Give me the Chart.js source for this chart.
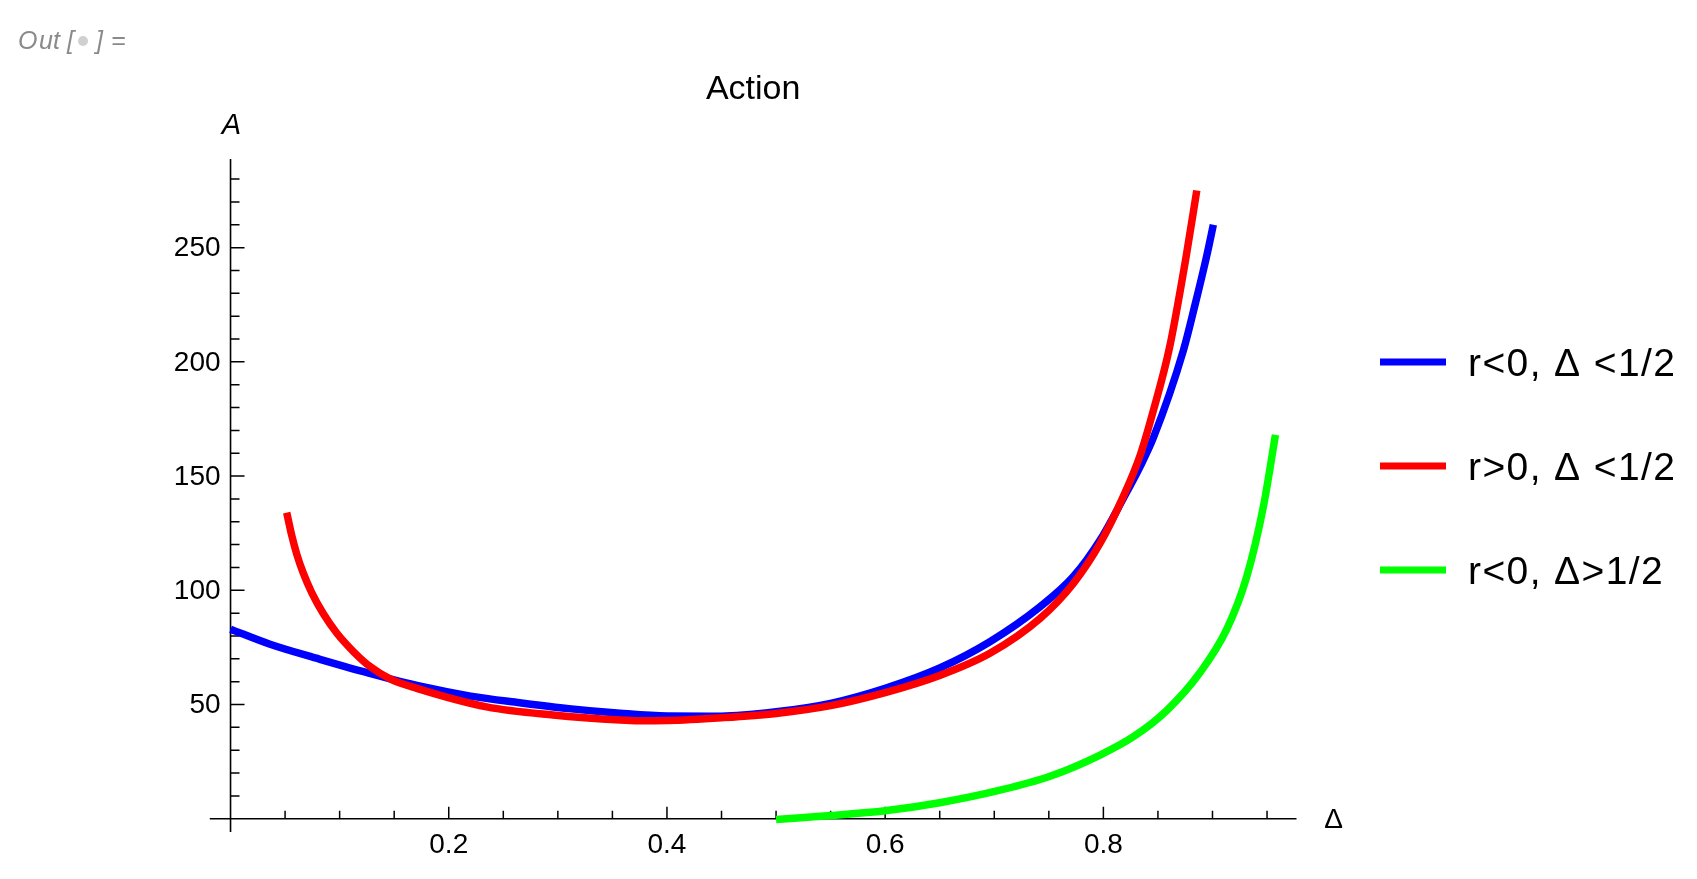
<!DOCTYPE html>
<html>
<head>
<meta charset="utf-8">
<script src="https://cdn.jsdelivr.net/npm/chart.js@4.4.1/dist/chart.umd.min.js"></script>
<style>
  html, body { margin: 0; padding: 0; background: #ffffff; }
  #wrap { position: relative; width: 1697px; height: 879px; }
  canvas { display: block; }
</style>
</head>
<body>
<div id="wrap"><canvas id="c" width="1697" height="879"></canvas></div>
<script>
// ---- data ----
const blueDelta  = [0.00, 0.0362, 0.082, 0.105, 0.12, 0.174, 0.22, 0.265, 0.31, 0.357, 0.40, 0.45, 0.50, 0.55, 0.60, 0.65, 0.696, 0.742, 0.7725, 0.797, 0.818, 0.834, 0.846, 0.8733, 0.884, 0.895, 0.9008];
const blueAction = [83.0, 76.4, 69.8, 66.6, 64.6, 58.0, 53.7, 50.8, 48.2, 46.2, 45.0, 44.9, 46.8, 50.5, 57.1, 66.0, 77.5, 92.8, 106.0, 122.0, 140.0, 154.5, 167.0, 205.0, 225.0, 247.0, 260.0];

const redDelta   = [0.0515, 0.0561, 0.0607, 0.0667, 0.0744, 0.0851, 0.0973, 0.1126, 0.1279, 0.1462, 0.1707, 0.2348, 0.2957, 0.357, 0.374, 0.40, 0.45, 0.50, 0.55, 0.60, 0.65, 0.696, 0.742, 0.7725, 0.797, 0.818, 0.834, 0.846, 0.8605, 0.8758, 0.8856];
const redAction  = [134.0, 124.0, 115.8, 107.5, 99.0, 89.7, 81.3, 73.2, 66.6, 61.2, 57.1, 49.0, 45.4, 43.2, 42.9, 43.0, 44.2, 46.1, 49.5, 55.2, 62.7, 72.4, 87.7, 103.0, 120.6, 140.8, 159.5, 179.0, 206.0, 246.0, 275.0];

const greenDelta  = [0.50, 0.55, 0.60, 0.65, 0.7053, 0.7511, 0.797, 0.8275, 0.8581, 0.8886, 0.9131, 0.9314, 0.9467, 0.9577];
const greenAction = [-0.3, 1.4, 3.5, 7.0, 12.5, 18.6, 27.9, 35.9, 47.4, 64.0, 83.0, 106.0, 136.8, 168.0];

const seriesLabels = ['r<0, \u0394 <1/2', 'r>0, \u0394 <1/2', 'r<0, \u0394>1/2'];
const seriesColors = ['#0000ff', '#ff0000', '#00ff00'];

const xMajorTicks = [0.2, 0.4, 0.6, 0.8];
const xTickLabels = ['0.2', '0.4', '0.6', '0.8'];
const xMinorTicks = [0.05, 0.10, 0.15, 0.25, 0.30, 0.35, 0.45, 0.50, 0.55, 0.65, 0.70, 0.75, 0.85, 0.90, 0.95];
const yMajorTicks = [50, 100, 150, 200, 250];
const yTickLabels = ['50', '100', '150', '200', '250'];
const yMinorTicks = [10, 20, 30, 40, 60, 70, 80, 90, 110, 120, 130, 140, 160, 170, 180, 190, 210, 220, 230, 240, 260, 270, 280];

const titleText = 'Action';
const xAxisLabel = '\u0394';
const yAxisLabel = 'A';

function pts(xs, ys) { return xs.map((x, i) => ({ x: x, y: ys[i] })); }

const FONT = '"Liberation Sans", Arial, sans-serif';

const axesPlugin = {
  id: 'mathAxes',
  beforeDatasetsDraw(chart) {
    const ctx = chart.ctx, xs = chart.scales.x, ys = chart.scales.y, a = chart.chartArea;
    const x0 = xs.getPixelForValue(0), y0 = ys.getPixelForValue(0);
    ctx.save();
    ctx.strokeStyle = '#000';
    ctx.lineWidth = 1.6;
    ctx.beginPath();
    ctx.moveTo(a.left, y0); ctx.lineTo(a.right, y0);
    ctx.moveTo(x0, a.top); ctx.lineTo(x0, a.bottom);
    ctx.stroke();
    ctx.lineWidth = 1.5;
    ctx.beginPath();
    xMajorTicks.forEach(v => { const p = xs.getPixelForValue(v); ctx.moveTo(p, y0); ctx.lineTo(p, y0 - 12); });
    xMinorTicks.forEach(v => { const p = xs.getPixelForValue(v); ctx.moveTo(p, y0); ctx.lineTo(p, y0 - 8); });
    yMajorTicks.forEach(v => { const p = ys.getPixelForValue(v); ctx.moveTo(x0, p); ctx.lineTo(x0 + 14, p); });
    yMinorTicks.forEach(v => { const p = ys.getPixelForValue(v); ctx.moveTo(x0, p); ctx.lineTo(x0 + 9, p); });
    ctx.stroke();

    ctx.fillStyle = '#000';
    ctx.font = '28px ' + FONT;
    ctx.textAlign = 'center'; ctx.textBaseline = 'middle';
    xMajorTicks.forEach((v, i) => ctx.fillText(xTickLabels[i], xs.getPixelForValue(v), y0 + 27));
    ctx.textAlign = 'right';
    yMajorTicks.forEach((v, i) => ctx.fillText(yTickLabels[i], x0 - 10, ys.getPixelForValue(v) + 1));
    ctx.restore();
  },
  afterDraw(chart) {
    const ctx = chart.ctx, xs = chart.scales.x, ys = chart.scales.y, a = chart.chartArea;
    const x0 = xs.getPixelForValue(0), y0 = ys.getPixelForValue(0);
    ctx.save();
    ctx.fillStyle = '#000';
    // title
    ctx.font = '34px ' + FONT;
    ctx.textAlign = 'center'; ctx.textBaseline = 'alphabetic';
    ctx.fillText(titleText, (a.left + a.right) / 2, 99);
    // axis labels
    ctx.font = 'italic 29px ' + FONT;
    ctx.fillText(yAxisLabel, x0 + 1, 134);
    ctx.font = '28px ' + FONT;
    ctx.fillText(xAxisLabel, a.right + 37, y0 + 9);
    // legend
    const legY = [362, 466, 570];
    ctx.font = '39px ' + FONT;
    ctx.textAlign = 'left';
    try { ctx.letterSpacing = '1.4px'; } catch (e) {}
    seriesLabels.forEach((lab, i) => {
      ctx.fillStyle = seriesColors[i];
      ctx.fillRect(1380, legY[i] - 3.5, 66, 7);
      ctx.fillStyle = '#000';
      ctx.fillText(lab, 1468, legY[i] + 14);
    });
    try { ctx.letterSpacing = '0px'; } catch (e) {}
    // notebook output marker
    ctx.fillStyle = '#8a8a8a';
    ctx.font = 'italic 25px ' + FONT;
    const outChars = [['O', 18], ['u', 39], ['t', 53], ['[', 67], [']', 96], ['=', 111]];
    outChars.forEach(c => ctx.fillText(c[0], c[1], 49));
    ctx.fillStyle = '#d0d0d0';
    ctx.beginPath(); ctx.arc(83, 41, 5, 0, Math.PI * 2); ctx.fill();
    ctx.restore();
  }
};

new Chart(document.getElementById('c'), {
  type: 'line',
  data: {
    datasets: [
      { label: seriesLabels[0], data: pts(blueDelta, blueAction), borderColor: seriesColors[0], order: 3 },
      { label: seriesLabels[1], data: pts(redDelta, redAction), borderColor: seriesColors[1], order: 2 },
      { label: seriesLabels[2], data: pts(greenDelta, greenAction), borderColor: seriesColors[2], order: 1 }
    ]
  },
  options: {
    responsive: false,
    devicePixelRatio: 1,
    animation: false,
    layout: { padding: { left: 209.8, right: 400.5, top: 159, bottom: 47 } },
    elements: {
      line: { borderWidth: 7.5, cubicInterpolationMode: 'monotone', fill: false, borderCapStyle: 'butt', borderJoinStyle: 'round' },
      point: { radius: 0, hoverRadius: 0 }
    },
    scales: {
      x: { type: 'linear', min: -0.019, max: 0.977, display: false },
      y: { type: 'linear', min: -5.8, max: 288.8, display: false }
    },
    plugins: { legend: { display: false }, title: { display: false }, tooltip: { enabled: false } }
  },
  plugins: [axesPlugin]
});
</script>
</body>
</html>
